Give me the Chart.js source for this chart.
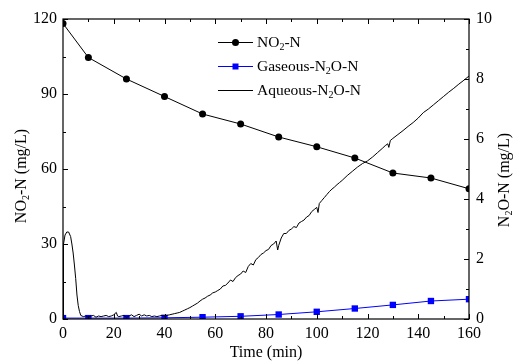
<!DOCTYPE html>
<html><head><meta charset="utf-8">
<script src="https://cdn.jsdelivr.net/npm/chart.js@4.4.0/dist/chart.umd.min.js"></script>
<style>html,body{margin:0;padding:0;background:#fff;}#c{display:block;}</style>
</head><body>
<canvas id="c" width="516" height="361"></canvas>
<script>
// ---- data ----
const no2Time  = [0, 10, 25, 40, 55, 70, 85, 100, 115, 130, 145, 160];
const no2Value = [118.2, 104.6, 96.0, 89.0, 82.0, 78.0, 72.8, 68.9, 64.4, 58.4, 56.4, 52.1];

const gasTime  = [0, 10, 25, 40, 55, 70, 85, 100, 115, 130, 145, 160];
const gasValue = [0.03, 0.03, 0.03, 0.04, 0.06, 0.09, 0.15, 0.24, 0.35, 0.47, 0.60, 0.66];

const aqTime = [0,0.2,0.8,1.5,2.2,3,3.5,4,4.5,5,5.5,6,6.5,7,7.5,8,9,10,11,12,13,14,15,16,17,18,19,20,21,21.5,22,23,24,25,26,27,28,29,30,31,32,33,34,35,36,37,38,39,40,
  41,42,43,44,45,46,47,48,49,50,51,52,53,54,55,56,57,58,59,60,61,62,63,64,65,66,67,68,69,70,71,72,73,74,75,76,77,78,79,80,81,82,83,84,84.6,85,86,87,88,89,90,91,92,93,94,95,96,97,98,99,100,100.5,101,102,103,104,105,106,107,108,109,110,
  112,114,116,118,120,122,124,126,127,128,128.4,129,130,132,134,136,138,140,142,144,146,148,150,152,154,156,158,160];
const aqValue = [0.1,2.5,2.8,2.9,2.9,2.75,2.5,2.2,1.8,1.35,0.8,0.45,0.25,0.12,0.1,0.08,0.1,0.06,0.1,0.12,0.06,0.1,0.08,0.1,0.12,0.08,0.1,0.14,0.22,0.1,0.08,0.1,0.12,0.06,0.1,0.14,0.08,0.12,0.16,0.1,0.14,0.1,0.12,0.08,0.1,0.08,0.1,0.12,0.1,
  0.12,0.14,0.16,0.18,0.2,0.22,0.26,0.3,0.34,0.38,0.43,0.48,0.53,0.6,0.66,0.7,0.76,0.8,0.87,0.9,0.95,1.0,1.1,1.12,1.2,1.3,1.25,1.38,1.45,1.5,1.6,1.55,1.75,1.85,1.8,1.98,2.05,2.15,2.2,2.28,2.32,2.45,2.5,2.6,2.3,2.45,2.7,2.85,2.85,2.95,3.0,3.08,3.05,3.2,3.25,3.3,3.4,3.45,3.58,3.65,3.72,3.55,3.85,3.95,4.05,4.15,4.25,4.33,4.4,4.48,4.55,4.62,
  4.78,4.92,5.06,5.18,5.27,5.4,5.55,5.7,5.78,5.84,5.72,5.95,6.02,6.15,6.28,6.42,6.55,6.7,6.88,7.0,7.14,7.28,7.42,7.56,7.69,7.83,7.96,8.1];

const xRange = [0, 160], xStep = 20;
const yRange = [0, 120], yStep = 30;
const y1Range = [0, 10], y1Step = 2;

const FONT = "'Liberation Serif','Times New Roman',serif";

function pts(xs, ys){ return xs.map((x,i)=>({x:x, y:ys[i]})); }

// draw text pieces with subscripts, centered at (0,0) after transform
function drawParts(ctx, parts, size, align){
  const sub = Math.round(size*0.62);
  let w = 0;
  parts.forEach(p=>{ ctx.font = (p.sub?sub:size)+'px '+FONT; p.w = ctx.measureText(p.t).width; w += p.w; });
  let x = align==='center' ? -w/2 : 0;
  ctx.textBaseline = 'middle';
  ctx.textAlign = 'left';
  parts.forEach(p=>{
    ctx.font = (p.sub?sub:size)+'px '+FONT;
    ctx.fillText(p.t, x, p.sub ? size*0.3 : 0);
    x += p.w;
  });
}

const decor = {
  id:'decor',
  afterDraw(chart){
    const ctx = chart.ctx, a = chart.chartArea;
    const xs = chart.scales.x, ys = chart.scales.y, y1 = chart.scales.y1;
    ctx.save();
    ctx.strokeStyle = '#000'; ctx.lineWidth = 1.2;
    ctx.strokeRect(a.left, a.top, a.right-a.left, a.bottom-a.top);
    ctx.lineWidth = 1;
    ctx.beginPath();
    for(let v=xRange[0]; v<=xRange[1]; v+=xStep/2){
      const px = Math.round(xs.getPixelForValue(v))+0.5;
      const L = (v % xStep === 0) ? 5 : 3;
      ctx.moveTo(px, a.bottom); ctx.lineTo(px, a.bottom-L);
      ctx.moveTo(px, a.top); ctx.lineTo(px, a.top+L);
    }
    for(let v=yRange[0]; v<=yRange[1]; v+=yStep/2){
      const py = Math.round(ys.getPixelForValue(v))+0.5;
      const L = (v % yStep === 0) ? 5 : 3;
      ctx.moveTo(a.left, py); ctx.lineTo(a.left+L, py);
    }
    for(let v=y1Range[0]; v<=y1Range[1]; v+=y1Step/2){
      const py = Math.round(y1.getPixelForValue(v))+0.5;
      const L = (v % y1Step === 0) ? 5 : 3;
      ctx.moveTo(a.right, py); ctx.lineTo(a.right-L, py);
    }
    ctx.stroke();

    ctx.fillStyle = '#000';
    // axis titles
    ctx.save(); ctx.translate(22, 176); ctx.rotate(-Math.PI/2);
    drawParts(ctx, [{t:'NO'},{t:'2',sub:true},{t:'-N (mg/L)'}], 16, 'center'); ctx.restore();
    ctx.save(); ctx.translate(505, 180); ctx.rotate(-Math.PI/2);
    drawParts(ctx, [{t:'N'},{t:'2',sub:true},{t:'O-N (mg/L)'}], 16, 'center'); ctx.restore();
    ctx.save(); ctx.translate(266, 353);
    drawParts(ctx, [{t:'Time (min)'}], 16, 'center'); ctx.restore();

    // legend
    const items = [
      {parts:[{t:'NO'},{t:'2',sub:true},{t:'-N'}], color:'#000', marker:'circle'},
      {parts:[{t:'Gaseous-N'},{t:'2',sub:true},{t:'O-N'}], color:'#0000ff', marker:'rect'},
      {parts:[{t:'Aqueous-N'},{t:'2',sub:true},{t:'O-N'}], color:'#000', marker:null}
    ];
    items.forEach((it,i)=>{
      const y = 42 + i*24;
      ctx.strokeStyle = it.color; ctx.lineWidth = 1;
      ctx.beginPath(); ctx.moveTo(218, y+0.5); ctx.lineTo(253, y+0.5); ctx.stroke();
      ctx.fillStyle = it.color;
      if(it.marker==='circle'){ ctx.beginPath(); ctx.arc(235.5, y+0.5, 3.5, 0, Math.PI*2); ctx.fill(); }
      if(it.marker==='rect'){ ctx.fillRect(232.5, y-2.5, 6, 6); }
      ctx.fillStyle = '#000';
      ctx.save(); ctx.translate(257, y+1); drawParts(ctx, it.parts, 15.5, 'left'); ctx.restore();
    });
    ctx.restore();
  }
};

new Chart(document.getElementById('c'), {
  type:'line',
  data:{ datasets:[
    { label:'Aqueous-N2O-N', data:pts(aqTime, aqValue), yAxisID:'y1', borderColor:'#000', borderWidth:1, pointRadius:0, tension:0, fill:false },
    { label:'Gaseous-N2O-N', data:pts(gasTime, gasValue), yAxisID:'y1', borderColor:'#0000ff', backgroundColor:'#0000ff', borderWidth:1, pointStyle:'rect', pointRadius:4.5, pointBorderWidth:0, tension:0, fill:false },
    { label:'NO2-N', data:pts(no2Time, no2Value), yAxisID:'y', borderColor:'#000', backgroundColor:'#000', borderWidth:1, pointStyle:'circle', pointRadius:3.5, pointBorderWidth:0, tension:0, fill:false }
  ]},
  options:{
    responsive:false, devicePixelRatio:1, animation:false,
    layout:{ padding:{ top:19, left:0, right:0, bottom:0 } },
    plugins:{ legend:{display:false}, tooltip:{enabled:false} },
    scales:{
      x:{ type:'linear', position:'bottom', min:xRange[0], max:xRange[1],
          ticks:{ stepSize:xStep, color:'#000', font:{family:FONT, size:16}, padding:5, maxRotation:0 },
          grid:{ display:false, drawTicks:false }, border:{display:false},
          afterFit:s=>{ s.height = 42; } },
      y:{ type:'linear', position:'left', min:yRange[0], max:yRange[1],
          ticks:{ stepSize:yStep, color:'#000', font:{family:FONT, size:16}, padding:6 },
          grid:{ display:false, drawTicks:false }, border:{display:false},
          afterFit:s=>{ s.width = 63; } },
      y1:{ type:'linear', position:'right', min:y1Range[0], max:y1Range[1],
          ticks:{ stepSize:y1Step, color:'#000', font:{family:FONT, size:16}, padding:7 },
          grid:{ display:false, drawTicks:false }, border:{display:false},
          afterFit:s=>{ s.width = 47; } }
    }
  },
  plugins:[decor]
});
</script>
</body></html>
